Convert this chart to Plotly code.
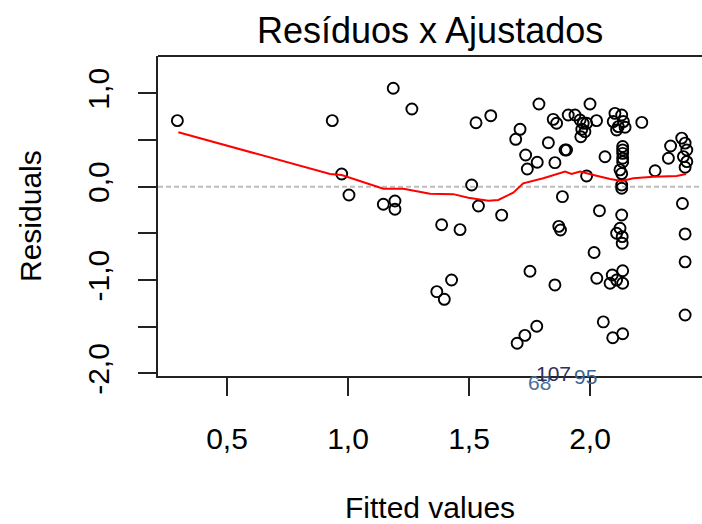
import plotly.graph_objects as go

# Fitted values and residuals
fitted = [0.295, 0.935, 0.974, 1.004, 1.187, 1.264, 1.146, 1.194, 1.194, 1.387,
          1.463, 1.428, 1.367, 1.398, 1.529, 1.590, 1.511, 1.539, 1.635, 1.711,
          1.693, 1.789, 1.734, 1.741, 1.782, 1.752, 1.780, 1.731, 1.699, 1.855,
          1.828, 1.855, 1.886, 1.871, 1.878, 1.848, 1.862, 1.897, 1.903, 1.910,
          1.938, 2.000, 2.027, 1.959, 1.972, 1.966, 1.962, 1.986, 1.979, 1.986,
          2.039, 2.062, 2.017, 2.028, 2.055, 2.094, 2.135, 2.083, 2.092, 2.135,
          2.135, 2.110, 2.110, 2.124, 2.133, 2.133, 2.131, 2.103, 2.131, 2.138,
          2.096, 2.117, 2.145, 2.110, 2.214, 2.135, 2.135, 2.135, 2.135, 2.135,
          2.124, 2.131, 2.131, 2.131, 2.269, 2.324, 2.333, 2.379, 2.393, 2.400,
          2.386, 2.400, 2.393, 2.382, 2.393, 2.393, 2.393]
residuals = [0.707, 0.707, 0.136, -0.089, 1.054, 0.832, -0.188, -0.153, -0.242, -0.407,
             -0.460, -0.999, -1.124, -1.206, 0.685, 0.760, 0.018, -0.207, -0.305, 0.614,
             0.507, 0.885, 0.339, 0.189, 0.261, -0.905, -1.495, -1.592, -1.677, -1.052,
             0.471, 0.257, -0.107, -0.425, -0.464, 0.721, 0.679, 0.393, 0.393, 0.768,
             0.768, 0.885, 0.707, 0.714, 0.679, 0.614, 0.535, 0.679, 0.589, 0.115,
             -0.257, 0.321, -0.705, -0.981, -1.448, -1.617, -1.574, -1.034, -0.945, -0.900,
             -1.034, -1.000, -0.499, -0.445, -0.535, -0.606, -0.303, 0.785, 0.768, 0.697,
             0.697, 0.643, 0.636, 0.607, 0.688, 0.430, 0.393, 0.357, 0.304, 0.265,
             0.180, 0.140, 0.018, -0.017, 0.171, 0.304, 0.436, 0.520, 0.466, 0.393,
             0.322, 0.268, 0.208, -0.180, -0.506, -0.805, -1.374]

# Smoothed (lowess) red curve
smooth_x = [0.299, 0.926, 0.974, 1.119, 1.146, 1.229, 1.298, 1.339, 1.435, 1.497,
            1.580, 1.621, 1.683, 1.724, 1.807, 1.897, 1.924, 1.959, 2.014, 2.083,
            2.131, 2.179, 2.262, 2.358, 2.397]
smooth_y = [0.582, 0.136, 0.125, 0.000, -0.022, -0.022, -0.053, -0.075, -0.080, -0.118,
            -0.150, -0.142, -0.064, 0.036, 0.090, 0.161, 0.136, 0.161, 0.125, 0.082,
            0.061, 0.090, 0.107, 0.115, 0.136]

# Identified observations
id_labels = ["68", "107", "95"]
id_x = [1.793, 1.851, 1.983]
id_y = [-2.10, -2.005, -2.027]

x_tickvals = [0.5, 1.0, 1.5, 2.0]
x_ticktext = ["0,5", "1,0", "1,5", "2,0"]
y_tickvals = [-2.0, -1.5, -1.0, -0.5, 0.0, 0.5, 1.0]
y_ticktext = ["-2,0", "", "-1,0", "", "0,0", "", "1,0"]

FONT = "Liberation Sans, Arial, sans-serif"
AX = "#222222"
Y_RANGE = [-2.027, 1.399]
MARGIN = dict(l=158, r=0, t=56, b=148)
HEIGHT = 524
px_per_y = (HEIGHT - MARGIN["t"] - MARGIN["b"]) / (Y_RANGE[1] - Y_RANGE[0])

fig = go.Figure()
fig.add_trace(go.Scatter(x=fitted, y=residuals, mode="markers",
                         marker=dict(symbol="circle-open", size=11, color="black",
                                     line=dict(width=1.9, color="black")),
                         showlegend=False, hoverinfo="x+y"))
fig.add_trace(go.Scatter(x=smooth_x, y=smooth_y, mode="lines",
                         line=dict(color="red", width=2), showlegend=False))

fig.add_hline(y=0, line=dict(color="#bdbdbd", width=2, dash="5px,3px"), layer="below")

# id labels sit just below the plot bottom; anchor to the axis bottom and shift
for lab, lx, ly, col in zip(id_labels, id_x, id_y, ["#4a6f9c", "#2e2f5c", "#3a6494"]):
    fig.add_annotation(x=lx, xref="x", y=0, yref="paper",
                       yshift=(ly - Y_RANGE[0]) * px_per_y, text=lab, showarrow=False,
                       yanchor="middle", font=dict(family=FONT, size=21, color=col))

# Top frame line (box is open on the right because the image is cropped)
fig.add_shape(type="line", xref="paper", yref="paper", x0=0, x1=1.05, y0=1, y1=1,
              line=dict(color=AX, width=2))

fig.add_annotation(xref="paper", yref="paper", x=0.5, y=1, yshift=26, text="Resíduos x Ajustados",
                   showarrow=False, yanchor="middle",
                   font=dict(family=FONT, size=36, color="black"))
fig.add_annotation(xref="paper", yref="paper", x=0.5, y=0, yshift=-131, text="Fitted values",
                   showarrow=False, yanchor="middle",
                   font=dict(family=FONT, size=30, color="black"))
fig.add_annotation(xref="paper", yref="paper", x=0, y=0.5, xshift=-128, text="Residuals",
                   showarrow=False, textangle=-90, xanchor="center",
                   font=dict(family=FONT, size=30, color="black"))

fig.update_layout(
    width=702, height=HEIGHT,
    margin=MARGIN,
    paper_bgcolor="white", plot_bgcolor="white",
    font=dict(family=FONT, size=30, color="black"),
    xaxis=dict(range=[0.2149, 2.4628], tickvals=x_tickvals, ticktext=x_ticktext,
               showgrid=False, zeroline=False, showline=True, linecolor=AX, linewidth=2,
               ticks="outside", ticklen=18, tickwidth=2, tickcolor=AX,
               ticklabelstandoff=17, tickfont=dict(size=30)),
    yaxis=dict(range=Y_RANGE, tickvals=y_tickvals, ticktext=y_ticktext,
               showgrid=False, zeroline=False, showline=True, linecolor=AX, linewidth=2,
               ticks="outside", ticklen=18, tickwidth=2, tickcolor=AX, tickangle=-90,
               ticklabelstandoff=17, tickfont=dict(size=30)),
)

fig.write_html("out.html")
